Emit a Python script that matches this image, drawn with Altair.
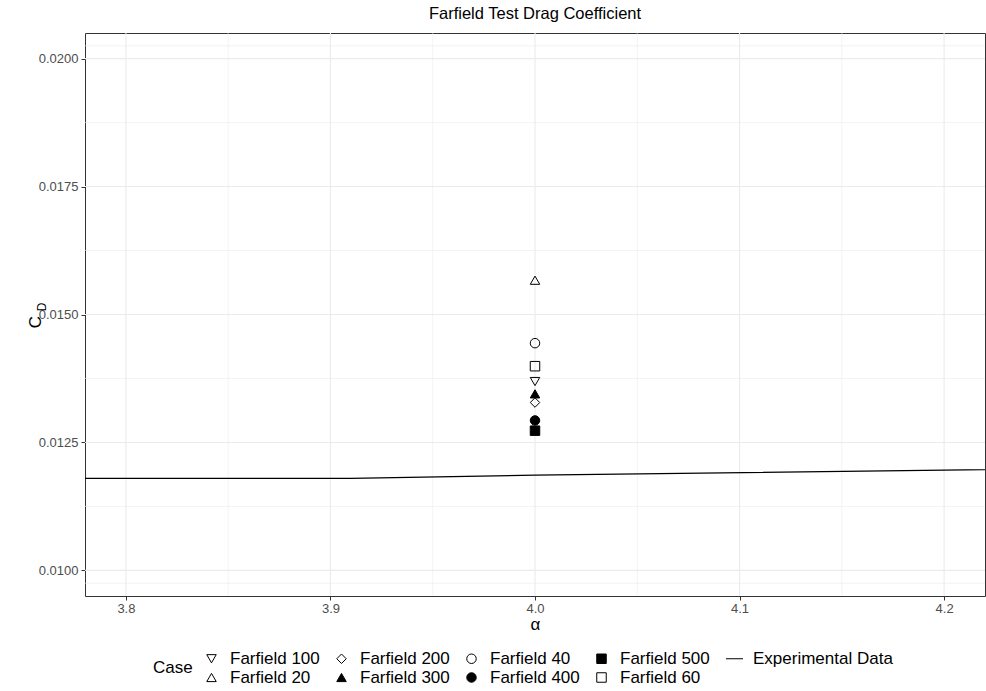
import altair as alt
import pandas as pd

FONT = "Liberation Sans"

# Simulation cases (all at alpha = 4.0)
cases = ["Farfield 20", "Farfield 40", "Farfield 60", "Farfield 100",
         "Farfield 200", "Farfield 300", "Farfield 400", "Farfield 500"]
alpha_cases = [4.0, 4.0, 4.0, 4.0, 4.0, 4.0, 4.0, 4.0]
cd_cases = [0.01567, 0.01444, 0.01399, 0.01369, 0.01328, 0.01345, 0.01293, 0.01273]

# Experimental data
exp_alpha = [3.70, 3.91, 4.00, 4.30]
exp_cd = [0.01180, 0.01180, 0.01186, 0.01201]

# Legend order (column-major as in the reference, laid out row-wise in 5 columns)
legend_order = ["Farfield 100", "Farfield 200", "Farfield 40", "Farfield 500", "Experimental Data",
                "Farfield 20", "Farfield 300", "Farfield 400", "Farfield 60"]
legend_shapes = ["triangle-down", "diamond", "circle", "square", "M-1.8,0H1.8",
                 "triangle-up", "triangle-up", "circle", "square"]
legend_fills = ["transparent", "transparent", "transparent", "black", "black",
                "transparent", "black", "black", "transparent"]
legend_strokes = ["black"] * 9

x_major = [3.8, 3.9, 4.0, 4.1, 4.2]
x_minor = [3.85, 3.95, 4.05, 4.15]
y_major = [0.0100, 0.0125, 0.0150, 0.0175, 0.0200]
y_minor = [0.00975, 0.01125, 0.01375, 0.01625, 0.01875, 0.02025]

pts_df = pd.DataFrame({"alpha": alpha_cases, "cd": cd_cases, "Case": cases})
exp_df = pd.DataFrame({"alpha": exp_alpha, "cd": exp_cd})

xs = alt.Scale(domain=[3.78, 4.22], nice=False, zero=False)
ys = alt.Scale(domain=[0.0095, 0.0205], nice=False, zero=False)

xaxis = alt.Axis(title="α", values=x_major, format=".1f", grid=False, domain=False,
                 tickColor="#333333", tickSize=4, labelPadding=2, titlePadding=1,
                 labelColor="#4D4D4D", labelFontSize=13, labelFont=FONT,
                 titleFont=FONT, titleFontSize=17, titleFontWeight="normal", titleColor="black")
yaxis = alt.Axis(title=None, values=y_major, format=".4f", grid=False, domain=False,
                 tickColor="#333333", tickSize=4, labelPadding=3,
                 labelColor="#4D4D4D", labelFontSize=13, labelFont=FONT)

grid_minor_x = alt.Chart(pd.DataFrame({"v": x_minor})).mark_rule(
    color="#EBEBEB", strokeWidth=0.6).encode(x=alt.X("v:Q", scale=xs, axis=xaxis))
grid_major_x = alt.Chart(pd.DataFrame({"v": x_major})).mark_rule(
    color="#EBEBEB", strokeWidth=1.1).encode(x=alt.X("v:Q", scale=xs, axis=xaxis))
grid_minor_y = alt.Chart(pd.DataFrame({"v": y_minor})).mark_rule(
    color="#EBEBEB", strokeWidth=0.6).encode(y=alt.Y("v:Q", scale=ys, axis=yaxis))
grid_major_y = alt.Chart(pd.DataFrame({"v": y_major})).mark_rule(
    color="#EBEBEB", strokeWidth=1.1).encode(y=alt.Y("v:Q", scale=ys, axis=yaxis))

line = alt.Chart(exp_df).mark_line(color="black", strokeWidth=1.2, clip=True).encode(
    x=alt.X("alpha:Q", scale=xs, axis=xaxis),
    y=alt.Y("cd:Q", scale=ys, axis=yaxis),
)

leg = alt.Legend(title="Case", orient="none", legendX=68, legendY=617,
                 direction="horizontal", columns=5, titleOrient="left",
                 titleAnchor="middle", titleBaseline="middle",
                 labelFontSize=17, labelFont=FONT, labelColor="black",
                 titleFontSize=17, titleFont=FONT, titleFontWeight="normal", titleColor="black",
                 symbolStrokeColor="black", symbolStrokeWidth=1, symbolSize=90,
                 labelOffset=10, columnPadding=13, rowPadding=1, titlePadding=10)

pts = alt.Chart(pts_df).mark_point(filled=True, strokeWidth=1,
                                    opacity=1, size=90).encode(
    x=alt.X("alpha:Q", scale=xs, axis=xaxis),
    y=alt.Y("cd:Q", scale=ys, axis=yaxis),
    shape=alt.Shape("Case:N", scale=alt.Scale(domain=legend_order, range=legend_shapes), legend=leg),
    fill=alt.Fill("Case:N", scale=alt.Scale(domain=legend_order, range=legend_fills), legend=leg),
    stroke=alt.Stroke("Case:N", scale=alt.Scale(domain=legend_order, range=legend_strokes), legend=leg),
)

c_lab = alt.Chart(pd.DataFrame({"t": ["C"]})).mark_text(
    angle=270, fontSize=17, font=FONT, color="black", align="center", baseline="middle").encode(
    x=alt.value(-49), y=alt.value(289), text="t:N")
d_lab = alt.Chart(pd.DataFrame({"t": ["D"]})).mark_text(
    angle=270, fontSize=12, font=FONT, color="black", align="center", baseline="middle").encode(
    x=alt.value(-43), y=alt.value(274), text="t:N")

chart = alt.layer(grid_minor_x, grid_minor_y, grid_major_x, grid_major_y, line, pts, c_lab, d_lab).properties(
    width=900, height=563,
    title=alt.TitleParams("Farfield Test Drag Coefficient", fontSize=16.5, font=FONT,
                          fontWeight="normal", color="black", anchor="middle", offset=10),
    autosize=alt.AutoSizeParams(type="none"),
    padding={"left": 85, "top": 33, "right": 1, "bottom": 95},
).configure_view(stroke="#333333", strokeWidth=1)

chart.save("out.html", embed_options={"renderer": "svg", "actions": False})
